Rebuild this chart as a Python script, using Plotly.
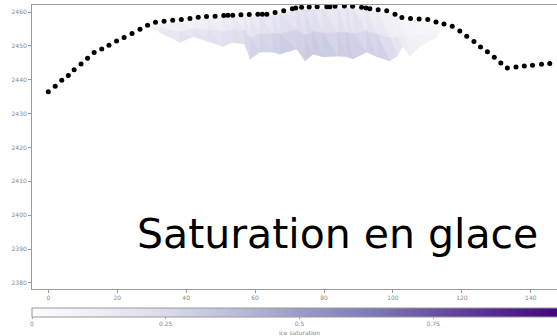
import plotly.graph_objects as go
from plotly.colors import sample_colorscale

# ---- data: flight-level dots (distance vs altitude) ----
dot_x = [0, 2, 3.9, 5.8, 7.5, 9.5, 11.4, 13.3, 15.5, 17.6, 19.8, 22.0, 24.3, 26.6, 28.8, 31.1, 33.6,
         36.1, 38.6, 41.1, 43.5, 45.9, 48.4, 50.9, 52.1, 53.5, 55.9, 58.3, 60.8, 62.1, 63.4, 65.8,
         68.3, 70.8, 71.8, 73.5, 75.7, 78.0, 80.8, 81.7, 83.2, 85.9, 88.3, 90.9, 92.2, 93.3, 95.7,
         98.2, 100.6, 102.6, 105.1, 107.6, 110.1, 112.5, 114.8, 117.2, 119.4, 121.4, 123.5, 125.4,
         127.4, 129.4, 131.3, 133.2, 135.7, 138.1, 140.5, 143.1, 145.5]
dot_y = [2436.5, 2438.1, 2439.9, 2441.3, 2443.0, 2444.7, 2446.4, 2448.1, 2449.1, 2450.2, 2451.5,
         2452.5, 2453.7, 2454.9, 2456.1, 2457.0, 2457.3, 2457.6, 2457.8, 2458.1, 2458.5, 2458.7,
         2458.8, 2459.0, 2459.1, 2459.1, 2459.2, 2459.3, 2459.4, 2459.4, 2459.4, 2459.9, 2460.4,
         2461.0, 2461.2, 2461.4, 2461.5, 2461.6, 2461.6, 2461.6, 2461.7, 2461.8, 2461.7, 2461.4,
         2461.2, 2461.0, 2460.7, 2460.4, 2459.4, 2458.4, 2458.1, 2458.0, 2457.8, 2457.1, 2456.5,
         2455.8, 2454.4, 2452.9, 2451.3, 2449.7, 2448.3, 2446.7, 2445.0, 2443.5, 2443.8, 2444.1,
         2444.3, 2444.6, 2444.8]

# ---- data: ice-saturation field (columns: top / bottom edges and values) ----
sat_x = [28.9, 32.4, 38.2, 42.0, 46.3, 50.7, 53.6, 57.0, 58.6, 61.4, 65.2, 67.2, 72.1, 74.5, 76.8,
         79.7, 84.0, 86.7, 88.4, 92.4, 95.4, 99.1, 101.2, 102.9, 104.9, 107.8, 112.8, 114.2, 115.4]
sat_ytop = [2456.0, 2456.5, 2457.1, 2457.5, 2458.0, 2458.3, 2458.4, 2458.6, 2458.6, 2458.7, 2459.1,
            2459.5, 2460.4, 2460.7, 2460.8, 2460.9, 2461.0, 2461.1, 2461.0, 2460.5, 2460.1, 2459.3,
            2458.4, 2457.7, 2457.5, 2457.3, 2456.6, 2456.1, 2455.8]
sat_ybot = [2455.6, 2454.0, 2451.1, 2452.8, 2451.4, 2449.9, 2451.1, 2450.5, 2446.2, 2448.2, 2448.2,
            2447.6, 2449.1, 2445.6, 2447.6, 2446.8, 2447.0, 2446.8, 2446.2, 2448.2, 2446.8, 2445.6,
            2447.0, 2449.9, 2447.0, 2449.9, 2452.8, 2455.7, 2455.6]
sat_top = [0.02, 0.05, 0.06, 0.07, 0.07, 0.08, 0.09, 0.09, 0.09, 0.11, 0.12, 0.14, 0.14, 0.16, 0.14,
           0.14, 0.12, 0.12, 0.12, 0.10, 0.09, 0.07, 0.06, 0.05, 0.04, 0.03, 0.02, 0.02, 0.02]
sat_mid = [0.05, 0.12, 0.16, 0.14, 0.17, 0.18, 0.19, 0.21, 0.23, 0.23, 0.25, 0.27, 0.25, 0.28, 0.27,
           0.25, 0.23, 0.27, 0.25, 0.23, 0.21, 0.17, 0.14, 0.11, 0.09, 0.08, 0.05, 0.03, 0.02]
sat_bot = [0.06, 0.17, 0.23, 0.21, 0.25, 0.23, 0.23, 0.25, 0.31, 0.29, 0.31, 0.33, 0.31, 0.33, 0.33,
           0.35, 0.33, 0.35, 0.33, 0.31, 0.33, 0.31, 0.23, 0.17, 0.13, 0.11, 0.07, 0.04, 0.02]

x_ticks = [0, 20, 40, 60, 80, 100, 120, 140]
y_ticks = [2380, 2390, 2400, 2410, 2420, 2430, 2440, 2450, 2460]
cb_ticks = [0, 0.25, 0.5, 0.75]
CS = "Purples"

fig = go.Figure()

# triangulated field
mid_y = [(a + b) / 2 for a, b in zip(sat_ytop, sat_ybot)]
rows_y = [sat_ytop, mid_y, sat_ybot]
rows_v = [sat_top, sat_mid, sat_bot]
for r in range(2):
    for i in range(len(sat_x) - 1):
        A = (sat_x[i], rows_y[r][i], rows_v[r][i])
        B = (sat_x[i + 1], rows_y[r][i + 1], rows_v[r][i + 1])
        C = (sat_x[i + 1], rows_y[r + 1][i + 1], rows_v[r + 1][i + 1])
        D = (sat_x[i], rows_y[r + 1][i], rows_v[r + 1][i])
        for tri in ((A, B, C), (A, C, D)):
            v = sum(p[2] for p in tri) / 3
            col = sample_colorscale(CS, [v])[0]
            fig.add_trace(go.Scatter(
                x=[p[0] for p in tri] + [tri[0][0]],
                y=[p[1] for p in tri] + [tri[0][1]],
                mode="lines", fill="toself", fillcolor=col,
                line=dict(color=col, width=0.6),
                hoverinfo="skip", showlegend=False))

# colorbar carrier
all_x = sat_x * 3
all_y = sat_ytop + mid_y + sat_ybot
all_v = sat_top + sat_mid + sat_bot
tick_font = dict(size=6, color="#888", family="DejaVu Sans")
fig.add_trace(go.Scatter(
    x=all_x, y=all_y, mode="markers", hoverinfo="skip", showlegend=False,
    marker=dict(size=1, opacity=0, color=all_v, colorscale=CS, cmin=0, cmax=1, showscale=True,
                colorbar=dict(orientation="h", x=0, xanchor="left", y=-0.0657, yanchor="top",
                              len=535, lenmode="pixels", thickness=9, thicknessmode="pixels",
                              outlinecolor="#9a9a9a", outlinewidth=1, xpad=0, ypad=0,
                              tickvals=cb_ticks, ticktext=["0", "0.25", "0.5", "0.75"],
                              ticks="outside", ticklen=2, tickcolor="#aaa",
                              tickfont=tick_font,
                              title=dict(text="ice saturation", side="bottom", font=tick_font)))))

# dots
fig.add_trace(go.Scatter(x=dot_x, y=dot_y, mode="markers",
                         marker=dict(color="black", size=5), showlegend=False))

fig.add_annotation(text="Saturation en glace", xref="paper", yref="paper", x=0.581, y=0.194,
                   xanchor="center", yanchor="middle", showarrow=False,
                   font=dict(family="DejaVu Sans", size=41, color="black"))

axis_common = dict(showgrid=False, zeroline=False, showline=True, linecolor="#9a9a9a", linewidth=1,
                   ticks="outside", ticklen=3, tickcolor="#9a9a9a", tickfont=tick_font)
fig.update_xaxes(range=[-4.73, 147.6], tickvals=x_ticks, mirror=True, **axis_common)
fig.update_yaxes(range=[2378.2, 2462.1], tickvals=y_ticks, **axis_common)

fig.update_layout(width=557, height=336, margin=dict(l=32, r=0, t=5, b=42),
                  paper_bgcolor="white", plot_bgcolor="white", showlegend=False)

fig.write_html("out.html")
